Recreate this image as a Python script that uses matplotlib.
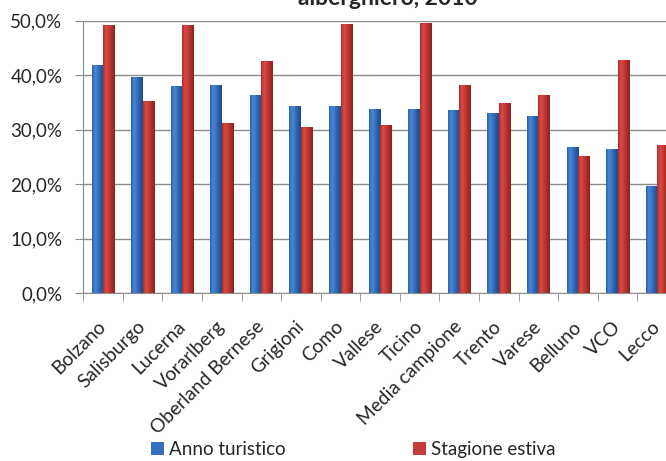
import numpy as np
import matplotlib
matplotlib.use("Agg")
import matplotlib.pyplot as plt
from matplotlib.colors import LinearSegmentedColormap

plt.rcParams['font.family'] = ['Lato', 'DejaVu Sans']

categories = ["Bolzano", "Salisburgo", "Lucerna", "Vorarlberg", "Oberland Bernese",
              "Grigioni", "Como", "Vallese", "Ticino", "Media campione",
              "Trento", "Varese", "Belluno", "VCO", "Lecco"]
anno_turistico = [41.7, 39.6, 37.9, 38.0, 36.2, 34.2, 34.2, 33.7, 33.7, 33.4,
                  32.9, 32.3, 26.7, 26.4, 19.6]
stagione_estiva = [49.1, 35.1, 49.1, 31.1, 42.4, 30.4, 49.3, 30.7, 49.5, 38.0,
                   34.7, 36.2, 25.0, 42.6, 27.1]
y_ticks = [0, 10, 20, 30, 40, 50]

text_col = '#262626'
line_col = '#8c8c8c'

# shaded fills so the bars look rounded
blue_map = LinearSegmentedColormap.from_list(
    'blu', ['#2a5fa5', '#4a88d6', '#3672c4', '#2a5ca2', '#1f4a85'])
red_map = LinearSegmentedColormap.from_list(
    'rosso', ['#a92d2b', '#dc4a46', '#c93a36', '#a92e2c', '#8a2322'])

fig = plt.figure(figsize=(6.66, 4.61), dpi=100)
ax = fig.add_axes([0.125, 0.3638, 0.8915, 0.5913])

x = np.arange(len(categories))
w = 0.29
b1 = ax.bar(x - w / 2, anno_turistico, w, color='#3470bd', label='Anno turistico', zorder=3)
b2 = ax.bar(x + w / 2, stagione_estiva, w, color='#c63a37', label='Stagione estiva', zorder=3)

grad = np.linspace(0, 1, 64).reshape(1, -1)
for bars, cmap in ((b1, blue_map), (b2, red_map)):
    for r in bars:
        x0, h, bw = r.get_x(), r.get_height(), r.get_width()
        ax.imshow(grad, extent=[x0, x0 + bw, 0, h], cmap=cmap, aspect='auto',
                  interpolation='bicubic', zorder=3.5)

ax.set_xlim(-0.5, len(categories) - 0.5)
ax.set_ylim(0, 50)

ax.set_yticks(y_ticks)
ax.set_yticklabels([f"{v:.1f}%".replace('.', ',') for v in y_ticks])
ax.yaxis.grid(True, color=line_col, lw=1)
ax.set_axisbelow(True)
ax.tick_params(axis='y', length=6, color=line_col, labelsize=13.5,
               labelcolor=text_col, pad=9)

ax.set_xticks(x)
ax.set_xticklabels(categories, rotation=45, ha='right', va='center',
                   rotation_mode='anchor')
ax.set_xticks(np.arange(-0.5, len(categories), 1), minor=True)
ax.tick_params(axis='x', which='major', length=0, labelsize=13.8,
               labelcolor=text_col, pad=22)
ax.tick_params(axis='x', which='minor', length=6, color=line_col)

for s in ('top', 'right'):
    ax.spines[s].set_visible(False)
for s in ('left', 'bottom'):
    ax.spines[s].set_color(line_col)

fig.text(0.583, 0.99, 'alberghiero, 2010', ha='center', va='baseline',
         weight='bold', size=16.5, color=text_col)

fig.legend(handles=[b1, b2], loc='lower left', bbox_to_anchor=(0.21, -0.018),
           ncol=2, frameon=False, handlelength=0.7, handleheight=0.7,
           handletextpad=0.25, columnspacing=6.8, fontsize=13.5,
           labelcolor=text_col, borderaxespad=0.2)

fig.savefig('out.png', dpi=100)
